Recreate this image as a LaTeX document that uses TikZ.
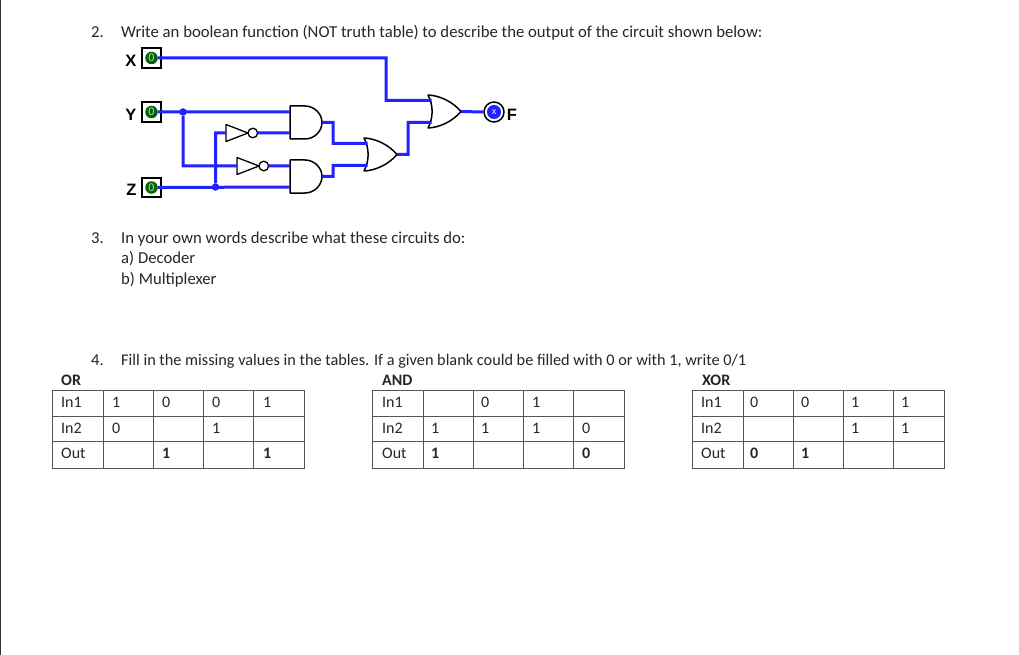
\documentclass[tikz,border=0pt]{standalone}
\usepackage{fontspec}
\setmainfont{Carlito}
\setsansfont{Liberation Sans}
\usetikzlibrary{positioning}

\definecolor{wireblue}{HTML}{2222FF}
\definecolor{pingreen}{HTML}{006400}
\definecolor{gridgray}{HTML}{555555}

\tikzset{
    line/.style={anchor=base west, inner sep=0pt, font=\fontsize{16.7}{18}\selectfont, text=black!85},
    cell/.style={line, font=\fontsize{16}{18}\selectfont},
    cellb/.style={cell, font=\fontsize{16}{18}\selectfont\bfseries},
    wire/.style={draw=wireblue, line width=3pt},
    dot/.style={circle, fill=wireblue, inner sep=0pt, minimum size=7.5pt},
    inbox/.style={draw, line width=2.2pt, fill=white, minimum width=19.5pt, minimum height=19.5pt, inner sep=0pt},
    inpin/.style={circle, fill=pingreen, inner sep=0pt, minimum size=12.5pt, text=white!75!pingreen, font=\fontsize{11}{11}\sffamily},
    pinname/.style={inner sep=0pt, yshift=-2.5pt, font=\fontsize{16.5}{17}\sffamily\bfseries},
    gatebody/.style={inner sep=0pt, minimum width=32pt, minimum height=33pt},
    gateline/.style={draw, line width=1.5pt, line join=round},
}

% gates: name, x, y
\newcommand{\andgate}[3]{
    \node[gatebody] (#1) at (#2,#3) {};
    \begin{scope}[shift={(#2,#3)}]
        \draw[gateline] (-16,-16.5) -- (-1,-16.5) .. controls (8,-16.5) and (16,-9) .. (16,0)
            .. controls (16,9) and (8,16.5) .. (-1,16.5) -- (-16,16.5) -- cycle;
        \coordinate (#1_a) at (-16,-10.5);
        \coordinate (#1_b) at (-16,10.5);
        \coordinate (#1_out) at (16,0);
    \end{scope}
}
\newcommand{\orgate}[3]{
    \node[gatebody] (#1) at (#2,#3) {};
    \begin{scope}[shift={(#2,#3)}]
        \draw[gateline] (-16.5,-16.5) .. controls (-5,-16) and (8,-10) .. (16.5,0)
            .. controls (8,10) and (-5,16) .. (-16.5,16.5)
            .. controls (-11,6) and (-11,-6) .. (-16.5,-16.5) -- cycle;
        \coordinate (#1_a) at (-13,-11);
        \coordinate (#1_b) at (-13,11);
        \coordinate (#1_out) at (16.5,0);
    \end{scope}
}
\newcommand{\notgate}[3]{
    \node[inner sep=0pt, minimum width=31pt, minimum height=17pt] (#1) at (#2,#3) {};
    \begin{scope}[shift={(#2,#3)}]
        \draw[gateline, line width=1.3pt] (-16,-8.5) -- (6,0) -- (-16,8.5) -- cycle;
        \draw[gateline, line width=1.3pt] (10.8,0) circle (4.8pt);
        \coordinate (#1_in) at (-16,0);
        \coordinate (#1_out) at (15.6,0);
    \end{scope}
}
% grid of one table, #1 = left edge
\newcommand{\tablegrid}[1]{
    \draw[gridgray, line width=1pt] (#1,390) rectangle ++(252,78);
    \foreach \rowy in {416,441.5}
        \draw[gridgray, line width=1pt] (#1,\rowy) -- ++(252,0);
    \foreach \colx in {51,101,151,201}
        \draw[gridgray, line width=1pt] (#1+\colx,390) -- ++(0,78);
}

\begin{document}
\begin{tikzpicture}[x=1pt, y=-1pt]
    \useasboundingbox (0,0) rectangle (1019,655);
    \fill[white] (0,0) rectangle (1019,655);
    \draw[black!80, line width=1.6pt] (0.5,0) -- (0.5,655);

    % questions
    \node[line] (n_2) at (91,38) {2.};
    \node[line] (q_2) at (121,38) {Write an boolean function (NOT truth table) to describe the output of the circuit shown below:};
    \node[line] (n_3) at (91,243.5) {3.};
    \node[line] (q_3) at (121,243.5) {In your own words describe what these circuits do:};
    \node[line] (q_3a) at (121,263.5) {a) Decoder};
    \node[line] (q_3b) at (121,284.5) {b) Multiplexer};
    \node[line] (n_4) at (91,365) {4.};
    \node[line, font=\fontsize{16.27}{18}\selectfont] (q_4) at (121,365) {Fill in the missing values in the tables. If a given blank could be filled with 0 or with 1, write 0/1};

    % circuit
    \node[inbox] (box_x) at (151.5,58) {};
    \node[inbox] (box_y) at (151.5,112) {};
    \node[inbox] (box_z) at (151.5,187.5) {};
    \node[inpin] (pin_x) at (box_x) {0};
    \node[inpin] (pin_y) at (box_y) {0};
    \node[inpin] (pin_z) at (box_z) {0};
    \node[pinname, left=4pt of box_x] (name_x) {X};
    \node[pinname, left=4pt of box_y] (name_y) {Y};
    \node[pinname, left=4pt of box_z] (name_z) {Z};

    \andgate{and_1}{306}{122.5}
    \andgate{and_2}{306}{176.5}
    \orgate{or_1}{380.5}{154.5}
    \orgate{or_2}{444.5}{111.5}
    \notgate{not_1}{242}{133}
    \notgate{not_2}{253}{166}

    \node[dot] (dot_y) at (183,112) {};
    \node[dot] (dot_z) at (215.5,187) {};
    \coordinate (bend_x) at (386,100.5);
    \coordinate (bend_a) at (333,143.5);
    \coordinate (bend_b) at (333,165.5);
    \coordinate (bend_c) at (408,122.5);

    \path[wire]
        (pin_x.east) -| (bend_x) -- (or_2_a)
        (pin_y.east) -- (and_1_a)
        (pin_z.east) -- (and_2_b)
        (dot_y) |- (not_2_in)
        (dot_z) |- (not_1_in)
        (not_1_out) -- (and_1_b)
        (not_2_out) -- (and_2_a)
        (and_1_out) -| (bend_a) -- (or_1_a)
        (and_2_out) -| (bend_b) -- (or_1_b)
        (or_1_out) -| (bend_c) -- (or_2_b);

    \node[circle, draw, line width=1.5pt, fill=white, minimum size=20pt, inner sep=0pt] (led) at (494,112) {};
    \node[circle, fill=wireblue, minimum size=14pt, inner sep=0pt, text=white, font=\fontsize{9}{9}\sffamily] (led_x) at (led) {x};
    \node[pinname, right=2pt of led] (name_f) {F};
    \path[wire] (or_2_out) -- (led.west);

    % tables
    \tablegrid{52}
    \tablegrid{372.5}
    \tablegrid{692}

    \node[cellb] (t_or) at (61,385) {OR};
    \node[cellb] (t_and) at (382,385) {AND};
    \node[cellb] (t_xor) at (702,385) {XOR};

    \foreach \tx/\tn in {61/or, 382/and, 701/xor} {
        \node[cell] (\tn_in1) at (\tx,407) {In1};
        \node[cell] (\tn_in2) at (\tx,433) {In2};
        \node[cell] (\tn_out) at (\tx,458) {Out};
    }

    \foreach \cx/\cy/\val in {112/407/1, 162/407/0, 212/407/0, 263/407/1,
            112/433/0, 212/433/1,
            431/433/1, 481/407/0, 481/433/1, 532/407/1, 532/433/1, 582/433/0,
            750/407/0, 801/407/0, 851/407/1, 851/433/1, 901/407/1, 901/433/1}
        \node[cell] (v_\cx_\cy) at (\cx,\cy) {\val};
    \foreach \cx/\val in {162/1, 263/1, 431/1, 582/0, 750/0, 801/1}
        \node[cellb] (o_\cx) at (\cx,458) {\val};
\end{tikzpicture}
\end{document}
